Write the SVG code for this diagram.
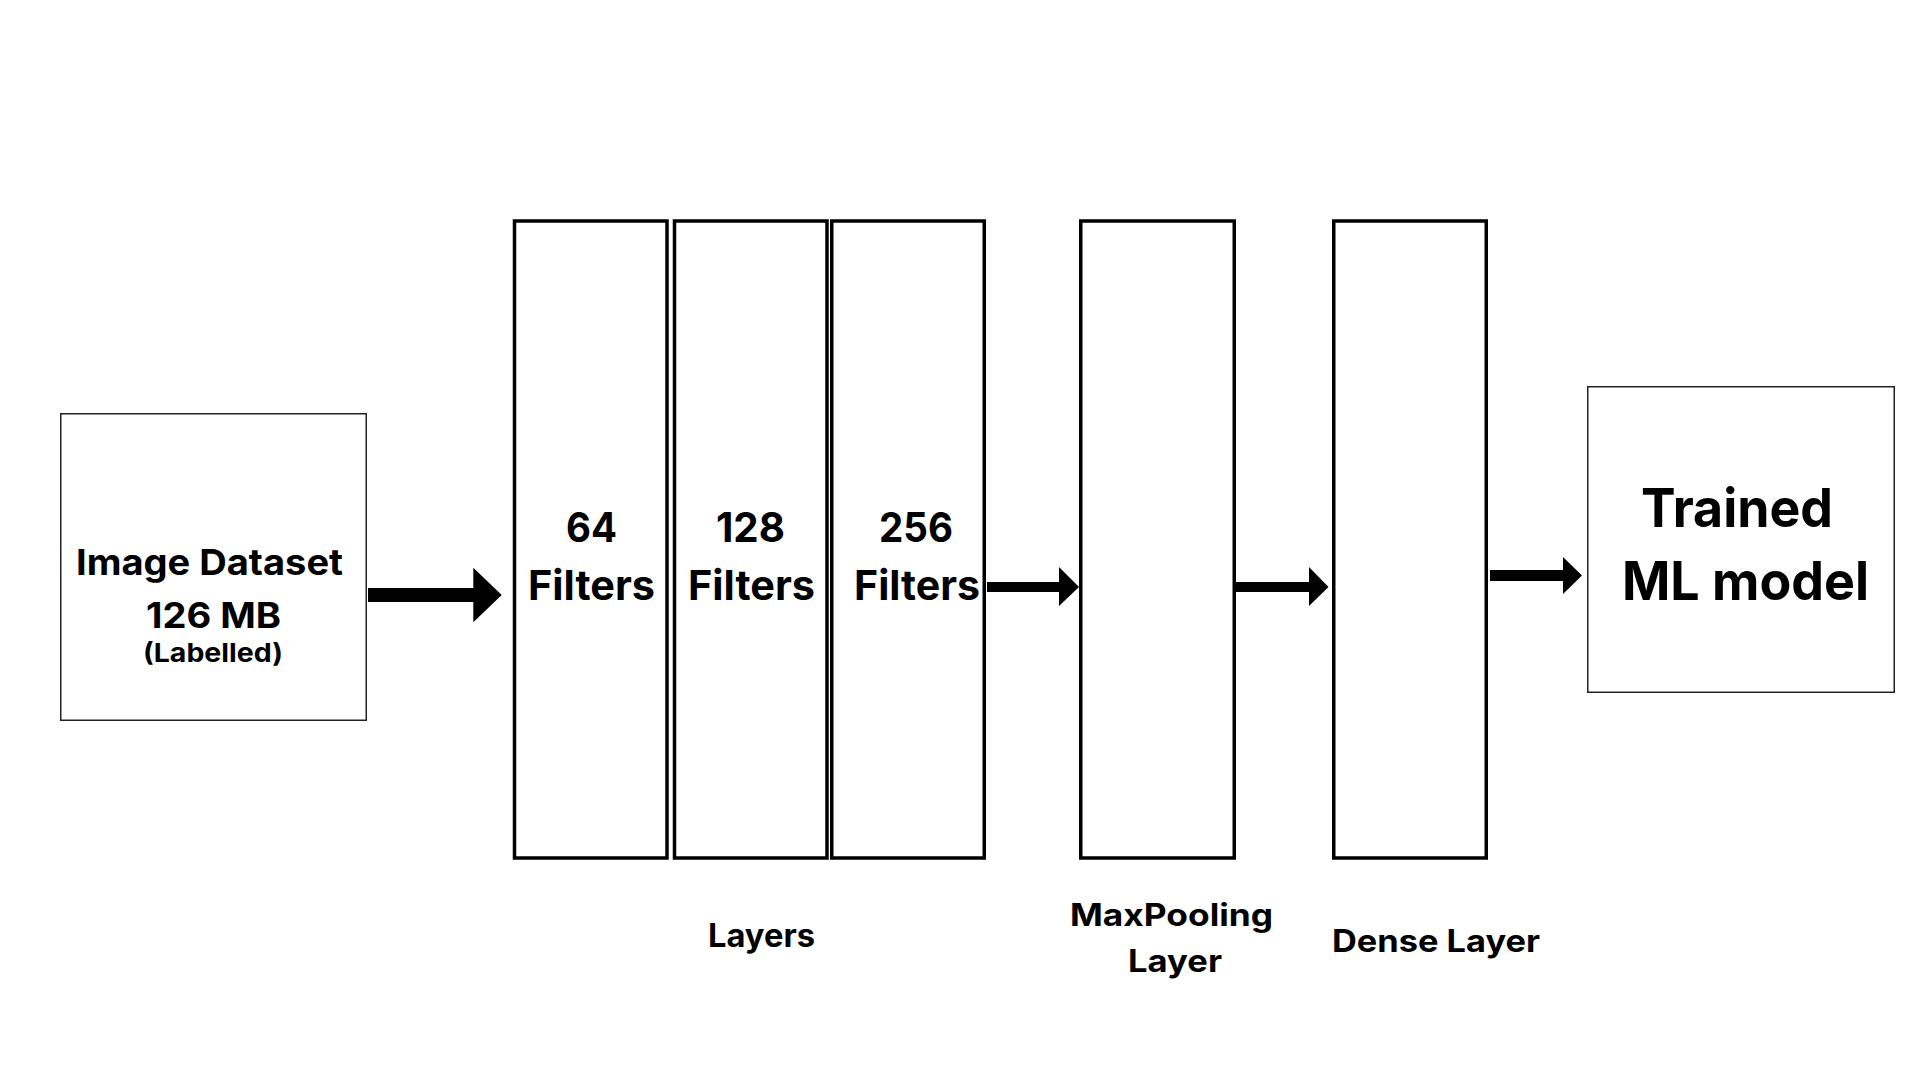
<svg xmlns="http://www.w3.org/2000/svg" width="1920" height="1080" viewBox="0 0 1920 1080">
<style>
.bg{fill:#ffffff}
.thin{fill:#ffffff;stroke:#222222;stroke-width:1.5}
.thick{fill:#ffffff;stroke:#000000;stroke-width:3.5}
.t{font-family:Inter,"Liberation Sans",sans-serif;font-weight:700;fill:#000000}
.arrow{fill:#000000}
</style>
<rect class="bg" x="0" y="0" width="1920" height="1080"/>
<g id="image-dataset">
<rect class="thin" x="60.75" y="413.75" width="305.5" height="306.5"/>
<text class="t" x="76" y="575" font-size="36" textLength="267" lengthAdjust="spacingAndGlyphs">Image Dataset</text>
<text class="t" x="146" y="628" font-size="35" textLength="135" lengthAdjust="spacingAndGlyphs">126 MB</text>
<text class="t" x="143" y="662" font-size="26" textLength="140" lengthAdjust="spacingAndGlyphs">(Labelled)</text>
</g>
<g id="conv-64">
<rect class="thick" x="514.5" y="221" width="152.5" height="637"/>
<text class="t" x="566" y="542" font-size="41" textLength="51" lengthAdjust="spacingAndGlyphs">64</text>
<text class="t" x="528" y="600" font-size="41" textLength="127" lengthAdjust="spacingAndGlyphs">Filters</text>
</g>
<g id="conv-128">
<rect class="thick" x="674.5" y="221" width="152.5" height="637"/>
<text class="t" x="716" y="542" font-size="41" textLength="69" lengthAdjust="spacingAndGlyphs">128</text>
<text class="t" x="688" y="600" font-size="41" textLength="127" lengthAdjust="spacingAndGlyphs">Filters</text>
</g>
<g id="conv-256">
<rect class="thick" x="831.75" y="221" width="152.5" height="637"/>
<text class="t" x="879" y="542" font-size="41" textLength="74" lengthAdjust="spacingAndGlyphs">256</text>
<text class="t" x="854" y="600" font-size="41" textLength="126" lengthAdjust="spacingAndGlyphs">Filters</text>
</g>
<g id="layers-label">
<text class="t" x="708" y="947" font-size="32" textLength="107" lengthAdjust="spacingAndGlyphs">Layers</text>
</g>
<g id="maxpooling">
<rect class="thick" x="1080.75" y="221" width="153.5" height="637"/>
<text class="t" x="1070" y="926" font-size="31" textLength="203" lengthAdjust="spacingAndGlyphs">MaxPooling</text>
<text class="t" x="1128" y="972" font-size="31" textLength="94" lengthAdjust="spacingAndGlyphs">Layer</text>
</g>
<g id="dense">
<rect class="thick" x="1333.75" y="221" width="152.5" height="637"/>
<text class="t" x="1332" y="951.5" font-size="31" textLength="208" lengthAdjust="spacingAndGlyphs">Dense Layer</text>
</g>
<g id="trained-model">
<rect class="thin" x="1587.75" y="386.75" width="306.5" height="305.5"/>
<text class="t" x="1641" y="527" font-size="54" textLength="192" lengthAdjust="spacingAndGlyphs">Trained</text>
<text class="t" x="1622" y="600" font-size="54" textLength="247" lengthAdjust="spacingAndGlyphs">ML model</text>
</g>
<g id="connectors">
<path class="arrow" d="M368,588 H473.3 V567.7 L501.7,595 L473.3,622.3 V602 H368 Z"/>
<path class="arrow" d="M987,582 H1059 V567 L1079,587 L1059,606 V592 H987 Z"/>
<path class="arrow" d="M1236,582 H1309 V567 L1328.5,587 L1309,606 V592 H1236 Z"/>
<path class="arrow" d="M1490,570 H1563 V557 L1582,575.5 L1563,594 V581 H1490 Z"/>
</g>
</svg>
